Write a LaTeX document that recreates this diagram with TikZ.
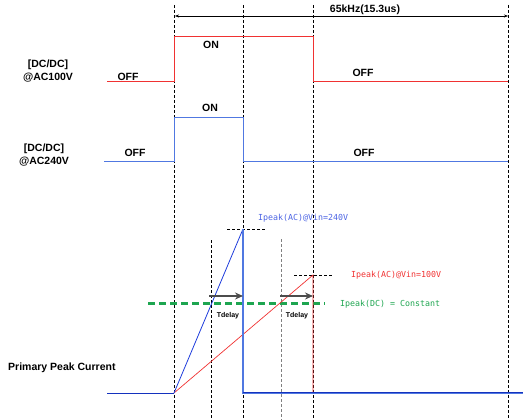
\documentclass[tikz,border=0pt]{standalone}
\usepackage{fontspec}
\setmainfont{Liberation Sans}
\newfontfamily\monofnt{DejaVu Sans Mono}
\usetikzlibrary{arrows.meta}
\definecolor{sigred}{RGB}{240,50,50}
\definecolor{sigblue}{RGB}{80,120,225}
\definecolor{rampblue}{RGB}{30,60,220}
\definecolor{basblue}{RGB}{20,50,190}
\definecolor{constgreen}{RGB}{30,165,80}
\begin{document}
\begin{tikzpicture}[x=1pt,y=-1pt,
  lbl/.style={font=\bfseries\fontsize{10.5}{13}\selectfont, inner sep=0pt, align=center},
  smlbl/.style={font=\bfseries\fontsize{7}{8}\selectfont, inner sep=0pt},
  pklbl/.style={font=\monofnt\fontsize{8.3}{9}\selectfont, inner sep=0pt, anchor=west},
  vguide/.style={draw=black, dash pattern=on 3pt off 2pt, line width=0.6pt},
  gguide/.style={draw=gray, dash pattern=on 3pt off 2pt, line width=0.8pt},
  hguide/.style={draw=black, dash pattern=on 3pt off 2pt, line width=0.5pt},
  greenline/.style={draw=constgreen, line width=2.2pt, dash pattern=on 7pt off 4pt},
  redsig/.style={draw=sigred, line width=0.9pt},
  bluesig/.style={draw=sigblue, line width=1pt},
  dly/.style={draw=black!70, line width=1.2pt, -{Stealth[length=8pt,width=7pt]}},
  period/.style={draw=black, line width=0.5pt, {Stealth[length=4pt,width=3pt]}-{Stealth[length=4pt,width=3pt]}}
]
\useasboundingbox (0,0) rectangle (523,420);
% guide coordinates
\coordinate (g1t) at (174,5);  \coordinate (g1b) at (174,420);
\coordinate (g2t) at (243,5);  \coordinate (g2b) at (243,420);
\coordinate (g3t) at (313,5);  \coordinate (g3b) at (313,420);
\coordinate (g4t) at (508,5);  \coordinate (g4b) at (508,420);
\coordinate (g5t) at (211,240); \coordinate (g5b) at (211,418);
\coordinate (g6t) at (281,239); \coordinate (g6b) at (281,420);
\draw[vguide] (g1t) -- (g1b);
\draw[vguide] (g2t) -- (g2b);
\draw[vguide] (g3t) -- (g3b);
\draw[vguide] (g4t) -- (g4b);
\draw[vguide] (g5t) -- (g5b);
\draw[gguide] (g6t) -- (g6b);
% period arrow
\coordinate (pa) at (175,16); \coordinate (pb) at (508,16);
\draw[period] (pa) -- (pb);
\node[lbl] (freq) at (365,10) {65kHz(15.3us)};
% red signal (AC100V)
\coordinate (r0) at (107,81); \coordinate (r1) at (174,81); \coordinate (r2) at (174,36.5);
\coordinate (r3) at (313,36.5); \coordinate (r4) at (313,81); \coordinate (r5) at (508,81);
\draw[redsig] (r0) -- (r1) -- (r2) -- (r3) -- (r4) -- (r5);
\node[lbl] (dc1) at (48,71.5) {[DC/DC]\\@AC100V};
\node[lbl] (off1) at (128,77) {OFF};
\node[lbl] (on1) at (211,45) {ON};
\node[lbl] (off2) at (363,73) {OFF};
% blue signal (AC240V)
\coordinate (b0) at (104,162); \coordinate (b1) at (174,162); \coordinate (b2) at (174,118);
\coordinate (b3) at (243,118); \coordinate (b4) at (243,162); \coordinate (b5) at (508,162);
\draw[bluesig] (b0) -- (b1) -- (b2) -- (b3) -- (b4) -- (b5);
\node[lbl] (dc2) at (44,155.5) {[DC/DC]\\@AC240V};
\node[lbl] (off3) at (135,153) {OFF};
\node[lbl] (on2) at (210,108) {ON};
\node[lbl] (off4) at (364,153) {OFF};
% current waveform
\coordinate (c0) at (107,393); \coordinate (c1) at (174,393);
\coordinate (bp) at (243,229); \coordinate (bb) at (243,393.5); \coordinate (be) at (523,393.5);
\coordinate (rp) at (313,275); \coordinate (rb) at (313,393); \coordinate (re) at (406,393);
\coordinate (h1a) at (227,229); \coordinate (h1b) at (265,229);
\coordinate (h2a) at (294,275); \coordinate (h2b) at (333,275);
\coordinate (ga) at (148,303.5); \coordinate (gb) at (325,303.5);
\draw[hguide] (h1a) -- (h1b);
\draw[hguide] (h2a) -- (h2b);
\draw[greenline] (ga) -- (gb);
\draw[redsig, line width=0.7pt] (c1) -- (rp) -- (rb) -- (re);
\draw[draw=rampblue, line width=0.8pt] (c1) -- (bp);
\draw[draw=sigblue, line width=1.2pt] (bp) -- (bb) -- (be);
\draw[draw=basblue, line width=0.8pt] (243,392.8) -- (523,392.8);
\draw[draw=basblue, line width=0.8pt] (c0) -- (c1);
% delays
\coordinate (d1a) at (209,296); \coordinate (d1b) at (243,296);
\coordinate (d2a) at (280,296); \coordinate (d2b) at (313,296);
\draw[dly] (d1a) -- (d1b);
\draw[dly] (d2a) -- (d2b);
\node[smlbl] (td1) at (228,316) {Tdelay};
\node[smlbl] (td2) at (297,316) {Tdelay};
% peak labels
\node[pklbl, text=rampblue!80!white] (pk240) at (258,218) {Ipeak(AC)@Vin=240V};
\node[pklbl, text=sigred] (pk100) at (351,275.5) {Ipeak(AC)@Vin=100V};
\node[pklbl, text=constgreen] (pkdc) at (340,304) {Ipeak(DC) = Constant};
\node[lbl, anchor=west] (ppc) at (8,368) {Primary Peak Current};
\end{tikzpicture}
\end{document}
